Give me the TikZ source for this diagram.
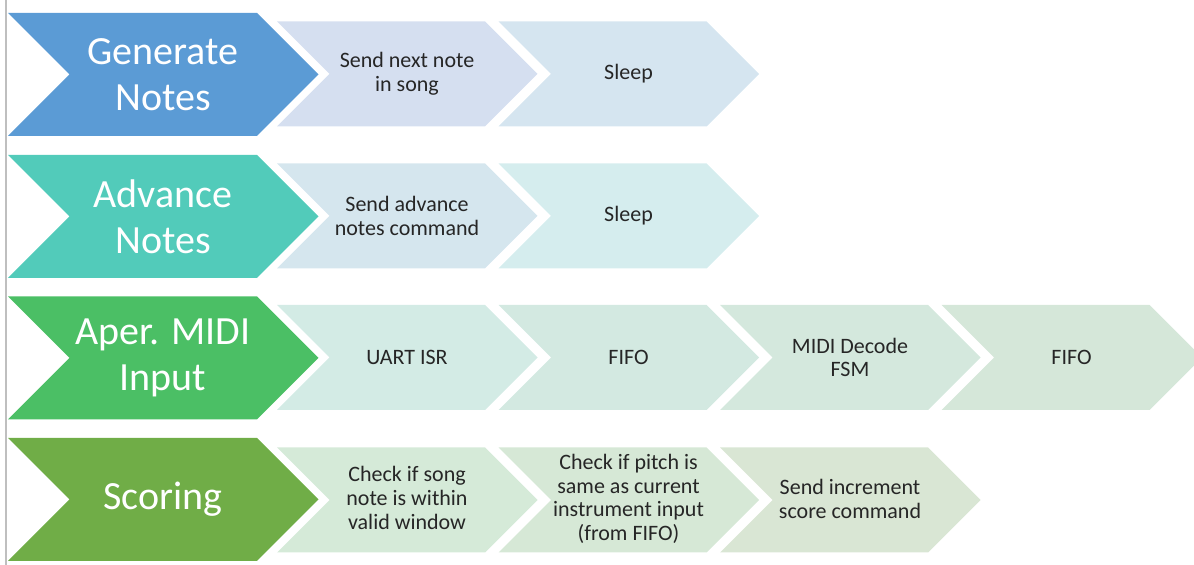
\documentclass[tikz,border=0pt]{standalone}
\usepackage{fontspec}
\setmainfont{Carlito}
\definecolor{bigA}{HTML}{5B9BD5}
\definecolor{bigB}{HTML}{52CBBA}
\definecolor{bigC}{HTML}{4BBF65}
\definecolor{bigD}{HTML}{70AD47}
\definecolor{sA1}{HTML}{D5DFF0}
\definecolor{sA2}{HTML}{D5E5F0}
\definecolor{sB1}{HTML}{D5E6EE}
\definecolor{sB2}{HTML}{D5EDEE}
\definecolor{sC1}{HTML}{D3EBE5}
\definecolor{sC2}{HTML}{D3E9E1}
\definecolor{sC3}{HTML}{D4E8DD}
\definecolor{sC4}{HTML}{D5E7D9}
\definecolor{sD1}{HTML}{D5EAD8}
\definecolor{sD2}{HTML}{D6E8D6}
\definecolor{sD3}{HTML}{D9E6D4}
\tikzset{bigtext/.style={text=white,font=\fontsize{20}{23}\selectfont,align=center},
	smalltext/.style={text=black!85,font=\fontsize{11}{11.8}\selectfont,align=center}}
% chevron: left x, centre y, body length, half height, colour
\newcommand{\chev}[5]{%
  \fill[#5] ({#1},{#2-#4}) -- ({#1+#3},{#2-#4}) -- ({#1+#3+#4},{#2})
    -- ({#1+#3},{#2+#4}) -- ({#1},{#2+#4}) -- ({#1+#4},{#2}) -- cycle;}

\begin{document}
\begin{tikzpicture}
  [x=0.5pt,y=-0.5pt]
  \useasboundingbox (0,0) rectangle (1194,565);
  \draw[black!25,line width=0.7pt] (6,0) -- (6,565);
  % big chevrons
  \foreach \y/\c in {74.5/bigA,216.5/bigB,358/bigC,499.5/bigD}
    \chev{8}{\y}{249}{61.5}{\c};
  % small chevrons
  \foreach \y/\i/\c in {74/0/sA1,74/1/sA2,216/0/sB1,216/1/sB2,
      357.5/0/sC1,357.5/1/sC2,357.5/2/sC3,357.5/3/sC4,
      500/0/sD1,500/1/sD2,500/2/sD3}
    \chev{277+221.5*\i}{\y}{208}{52.5}{\c};
  \node[bigtext] (gen) at (163,74.5) {Generate\\Notes};
  \node[bigtext] (adv) at (163,216.5) {Advance\\Notes};
  \node[bigtext] (midi) at (163,358) {Aper. MIDI\\Input};
  \node[bigtext] (score) at (163,499.5) {Scoring};
  \node[smalltext] (gen1) at (407,74) {Send next note\\in song};
  \node[smalltext] (gen2) at (628.5,74) {Sleep};
  \node[smalltext] (adv1) at (407,216) {Send advance\\notes command};
  \node[smalltext] (adv2) at (628.5,216) {Sleep};
  \node[smalltext] (midi1) at (407,357.5) {UART ISR};
  \node[smalltext] (midi2) at (628.5,357.5) {FIFO};
  \node[smalltext] (midi3) at (850,357.5) {MIDI Decode\\FSM};
  \node[smalltext] (midi4) at (1071.5,357.5) {FIFO};
  \node[smalltext] (score1) at (407,498) {Check if song\\note is within\\valid window};
  \node[smalltext] (score2) at (628.5,499) {Check if pitch is\\same as current\\instrument input\\(from FIFO)};
  \node[smalltext] (score3) at (850,499) {Send increment\\score command};
\end{tikzpicture}
\end{document}
